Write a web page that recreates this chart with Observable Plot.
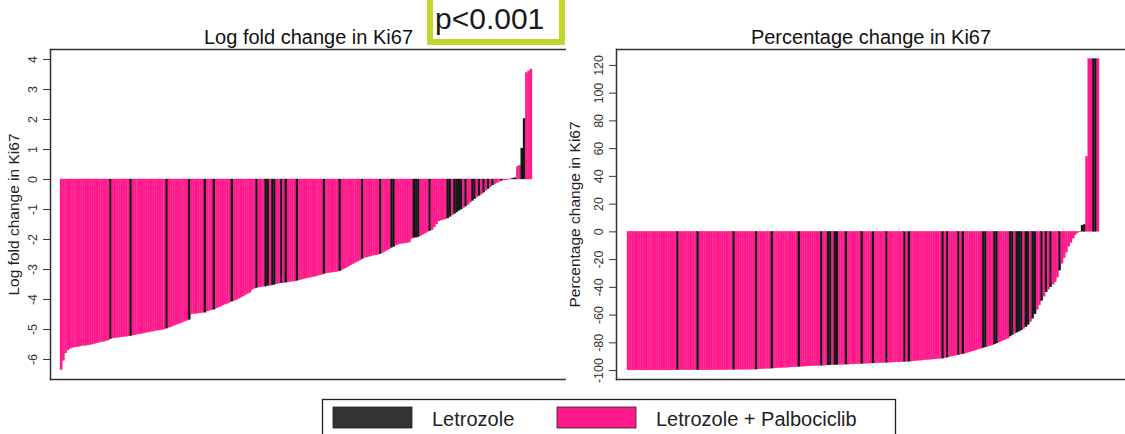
<!DOCTYPE html>
<html><head><meta charset="utf-8">
<script src="https://cdn.jsdelivr.net/npm/d3@7"></script>
<script src="https://cdn.jsdelivr.net/npm/@observablehq/plot@0.6"></script>
<style>
body{margin:0;background:#fff;}
#wrap{position:relative;width:1125px;height:434px;overflow:hidden;font-family:"Liberation Sans",Arial,sans-serif;background:#fff;}
.panel{position:absolute;top:0;}
.panel svg{max-width:none;background:transparent;}
#overlay{position:absolute;left:0;top:0;}
</style></head><body><div id="wrap"></div>
<script>
// ---- data ----
const arms = ["Letrozole", "Letrozole + Palbociclib"];
const armColors = ["#161616", "#ff1a8c"];

const lfcValues = [
-6.35,-6.05,-5.8,-5.7,-5.65,-5.62,-5.6,-5.59,-5.58,-5.56,
-5.55,-5.54,-5.53,-5.52,-5.5,-5.48,-5.46,-5.44,-5.42,-5.41,
-5.39,-5.37,-5.32,-5.3,-5.29,-5.28,-5.27,-5.26,-5.25,-5.24,
-5.23,-5.22,-5.2,-5.19,-5.17,-5.16,-5.14,-5.13,-5.11,-5.1,
-5.08,-5.07,-5.05,-5.04,-5.03,-5.02,-5.0,-4.97,-4.94,-4.92,
-4.89,-4.86,-4.83,-4.8,-4.77,-4.74,-4.71,-4.68,-4.5,-4.49,
-4.48,-4.47,-4.46,-4.45,-4.44,-4.4,-4.38,-4.36,-4.34,-4.3,
-4.27,-4.24,-4.2,-4.17,-4.14,-4.11,-4.07,-4.05,-4.02,-3.98,
-3.94,-3.9,-3.86,-3.82,-3.78,-3.68,-3.64,-3.62,-3.6,-3.59,
-3.58,-3.57,-3.55,-3.54,-3.53,-3.51,-3.49,-3.47,-3.46,-3.45,
-3.44,-3.43,-3.42,-3.41,-3.4,-3.38,-3.36,-3.34,-3.32,-3.3,
-3.29,-3.27,-3.25,-3.24,-3.22,-3.2,-3.18,-3.15,-3.13,-3.12,
-3.11,-3.1,-3.09,-3.08,-3.06,-3.02,-2.98,-2.94,-2.9,-2.86,
-2.82,-2.78,-2.74,-2.7,-2.65,-2.62,-2.6,-2.58,-2.56,-2.54,
-2.53,-2.51,-2.49,-2.45,-2.41,-2.37,-2.33,-2.28,-2.25,-2.2,
-2.17,-2.15,-2.14,-2.13,-2.12,-2.1,-1.98,-1.95,-1.94,-1.92,
-1.88,-1.84,-1.8,-1.76,-1.72,-1.69,-1.6,-1.5,-1.4,-1.37,
-1.35,-1.33,-1.3,-1.25,-1.2,-1.15,-1.1,-1.05,-1.0,-0.95,
-0.9,-0.85,-0.78,-0.72,-0.66,-0.6,-0.55,-0.5,-0.44,-0.38,
-0.32,-0.26,-0.2,-0.16,-0.12,-0.08,-0.05,-0.03,-0.02,-0.01,
0.005,0.03,0.04,0.42,0.46,1.03,2.02,3.55,3.6,3.66
];
const lfcLetrozoleBars = [22,31,47,57,64,68,76,87,91,92,94,95,98,100,105,117,124,134,142,147,148,157,158,159,164,172,173,175,176,177,178,180,183,184,186,188,190,192,196,201,202,205,206];

const pctValues = [
-99.9,-99.9,-99.9,-99.9,-99.9,-99.9,-99.9,-99.9,-99.9,-99.9,
-99.9,-99.9,-99.9,-99.9,-99.9,-99.9,-99.9,-99.9,-99.9,-99.9,
-99.8,-99.8,-99.8,-99.8,-99.8,-99.8,-99.8,-99.8,-99.8,-99.8,
-99.8,-99.8,-99.8,-99.8,-99.8,-99.8,-99.8,-99.8,-99.8,-99.8,
-99.8,-99.75,-99.7,-99.7,-99.65,-99.6,-99.6,-99.55,-99.5,-99.5,
-99.45,-99.45,-99.4,-99.4,-99.35,-99.35,-99.3,-99.3,-99.2,-99.1,
-99.0,-98.9,-98.8,-98.7,-98.6,-98.5,-98.4,-98.3,-98.2,-98.1,
-98.0,-97.9,-97.8,-97.7,-97.6,-97.5,-97.4,-97.3,-97.2,-97.1,
-97.0,-96.95,-96.9,-96.8,-96.7,-96.6,-96.55,-96.5,-96.4,-96.3,
-96.25,-96.2,-96.1,-96.0,-95.95,-95.9,-95.8,-95.75,-95.7,-95.6,
-95.55,-95.5,-95.4,-95.3,-95.25,-95.2,-95.1,-95.0,-94.95,-94.9,
-94.8,-94.7,-94.65,-94.6,-94.5,-94.45,-94.4,-94.3,-94.2,-94.15,
-94.1,-94.0,-93.95,-93.9,-93.8,-93.65,-93.5,-93.35,-93.2,-93.05,
-92.9,-92.75,-92.6,-92.45,-92.3,-92.15,-92.0,-91.85,-91.7,-91.55,
-91.4,-91.0,-90.7,-90.3,-89.9,-89.6,-89.2,-88.9,-88.5,-88.2,
-87.8,-87.3,-86.8,-86.3,-85.8,-85.3,-84.8,-84.3,-83.8,-83.3,
-82.9,-82.4,-81.9,-81.2,-80.5,-79.8,-79.1,-78.4,-77.7,-77.0,
-75.5,-74.5,-73.5,-72.7,-71.9,-71.0,-69.9,-68.7,-67.0,-65.0,
-62.7,-59.5,-56.3,-53.0,-49.9,-46.8,-43.6,-41.8,-40.0,-38.2,
-36.4,-33,-28,-23,-19,-15,-11,-8,-5,-2.5,
-1,-0.3,4.5,5,54,124.5,124.5,124.5,124.5,124.5
];
const pctLetrozoleBars = [22,31,47,57,64,76,86,89,90,92,93,97,104,109,115,123,125,140,142,147,149,158,159,163,164,170,171,173,174,175,177,178,180,181,184,186,188,192,202,203,207,208];

const lfcTicks = [-6,-5,-4,-3,-2,-1,0,1,2,3,4];
const pctTicks = [-100,-80,-60,-40,-20,0,20,40,60,80,100,120];
const panelTitles = ["Log fold change in Ki67", "Percentage change in Ki67"];
const axisTitles = ["Log fold change in Ki67", "Percentage change in Ki67"];
const pValueText = "p<0.001";

// ---- drawing ----
const wrap = document.getElementById("wrap");
const ink = "#333";

function panel({values, blacks, left, width, marginLeft, xRange, yDomain, ticks, title, ylabel, ylabelDx}) {
  const data = values.map((v, i) => ({i, v, arm: blacks.includes(i) ? arms[0] : arms[1]}));
  const chart = Plot.plot({
    width, height: 400,
    marginLeft, marginRight: 0, marginTop: 49, marginBottom: 21,
    style: {fontFamily: "'Liberation Sans', Arial, sans-serif", background: "transparent", color: "#222"},
    x: {type: "band", domain: d3.range(values.length), range: xRange, padding: 0, axis: null},
    y: {domain: yDomain, axis: null},
    color: {domain: arms, range: armColors},
    marks: [
      Plot.barY(data, {x: "i", y: "v", fill: "arm", stroke: "arm", strokeWidth: 0.35}),
      Plot.axisY({ticks, label: null, tickSize: 7, tickPadding: 7, tickRotate: -90, tickFormat: d => String(d), fontSize: 12.5, color: ink}),
      Plot.frame({anchor: "left", stroke: ink, strokeWidth: 1.5}),
      Plot.frame({anchor: "top", stroke: ink, strokeWidth: 1.5}),
      Plot.frame({anchor: "bottom", stroke: ink, strokeWidth: 1.5}),
      Plot.text([title], {frameAnchor: "top", dy: -6, lineAnchor: "bottom", fontSize: 20, fill: "#111"}),
      Plot.text([ylabel], {frameAnchor: "left", dx: ylabelDx, rotate: -90, textAnchor: "middle", lineAnchor: "middle", fontSize: 15.5, fill: "#222"})
    ]
  });
  const div = document.createElement("div");
  div.className = "panel";
  div.style.left = left + "px";
  div.appendChild(chart);
  wrap.appendChild(div);
}

panel({values: lfcValues, blacks: lfcLetrozoleBars, left: 0, width: 566, marginLeft: 50,
  xRange: [60, 532], yDomain: [-6.667, 4.333], ticks: lfcTicks,
  title: panelTitles[0], ylabel: axisTitles[0], ylabelDx: -36});

panel({values: pctValues, blacks: pctLetrozoleBars, left: 560, width: 565, marginLeft: 56,
  xRange: [67, 539], yDomain: [-106.45, 131.47], ticks: pctTicks,
  title: panelTitles[1], ylabel: axisTitles[1], ylabelDx: -41});

// annotation box and legend
const svg = d3.select(wrap).append("svg").attr("id", "overlay").attr("width", 1125).attr("height", 434)
  .style("font-family", "'Liberation Sans', Arial, sans-serif");
svg.append("rect").attr("x", 430).attr("y", -6).attr("width", 132).attr("height", 48)
  .attr("fill", "#fff").attr("stroke", "#c3d62b").attr("stroke-width", 6);
svg.append("text").attr("x", 435).attr("y", 29).attr("font-size", 30).attr("fill", "#1a1a1a").text(pValueText);

const lg = svg.append("g");
lg.append("rect").attr("x", 322.5).attr("y", 399.5).attr("width", 573).attr("height", 60)
  .attr("fill", "#fff").attr("stroke", "#222").attr("stroke-width", 1.3);
const legendItems = [
  {label: arms[0], color: "#333333", sx: 333, tx: 432},
  {label: arms[1], color: armColors[1], sx: 557, tx: 656}
];
legendItems.forEach(d => {
  lg.append("rect").attr("x", d.sx).attr("y", 407).attr("width", 79).attr("height", 21)
    .attr("fill", d.color).attr("stroke", "#222").attr("stroke-width", 0.8);
  lg.append("text").attr("x", d.tx).attr("y", 426).attr("font-size", 20).attr("fill", "#222").text(d.label);
});
</script>
</body></html>
